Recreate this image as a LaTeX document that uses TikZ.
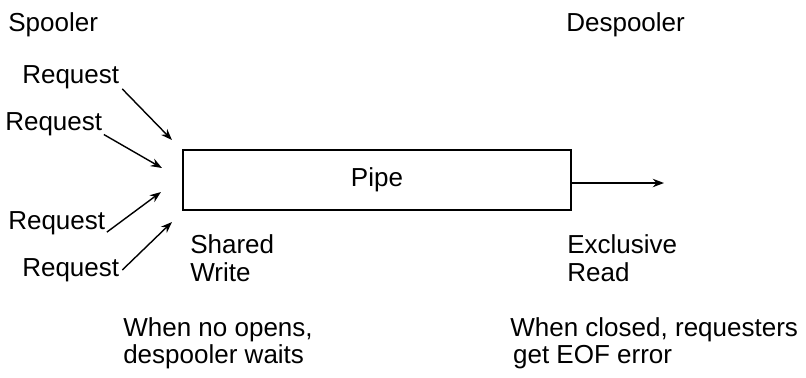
\documentclass[tikz,border=0pt]{standalone}
\usepackage{fontspec}
\setmainfont{Liberation Sans}
\usetikzlibrary{arrows.meta,positioning}

\begin{document}
\begin{tikzpicture}[
    x=0.025cm, y=-0.025cm,
    node distance=1cm and 1cm,
    lbl/.style={anchor=west, inner sep=0pt, align=left, font=\fontsize{18.5}{19.5}\selectfont},
    pipebox/.style={draw, line width=1.4pt, minimum width=9.7cm, minimum height=1.5cm, font=\fontsize{18.5}{20}\selectfont},
    myedge/.style={-{Stealth[length=8pt, width=6pt]}, line width=1pt}
]
\useasboundingbox (0,0) rectangle (806,377);

\node[lbl] (spool) at (8,25) {Spooler};
\node[lbl] (despool) at (566,25) {Despooler};

\node[pipebox] (pipe) at (377,180) {Pipe};

\node[lbl] (r1) at (22,77) {Request};
\node[lbl] (r2) at (5,124) {Request};
\node[lbl] (r3) at (8,223) {Request};
\node[lbl] (r4) at (22,270) {Request};

\coordinate (in1) at ([xshift=-10*0.025cm, yshift=1cm]pipe.west);
\coordinate (in2) at ([xshift=-20*0.025cm, yshift=0.3cm]pipe.west);
\coordinate (in3) at ([xshift=-21*0.025cm, yshift=-0.3cm]pipe.west);
\coordinate (in4) at ([xshift=-10*0.025cm, yshift=-1.05cm]pipe.west);
\coordinate (out) at (664,183);

\draw[myedge] ([xshift=2pt]r1.south east) -- (in1);
\draw[myedge] ([xshift=1pt,yshift=1pt]r2.south east) -- (in2);
\draw[myedge] ([xshift=1pt,yshift=2pt]r3.south east) -- (in3);
\draw[myedge] ([xshift=2pt]r4.east) -- (in4);
\draw[myedge] (pipe.east |- out) -- (out);

\node[lbl] (shared) at (190,258) {Shared\\Write};
\node[lbl] (excl) at (567,258) {Exclusive\\Read};

\node[lbl] (noopen) at (123,343) {When no opens,\\despooler waits};
\node[lbl] (closed) at (510,343) {When closed, requesters\\\hspace{2pt}get EOF error};
\end{tikzpicture}
\end{document}
